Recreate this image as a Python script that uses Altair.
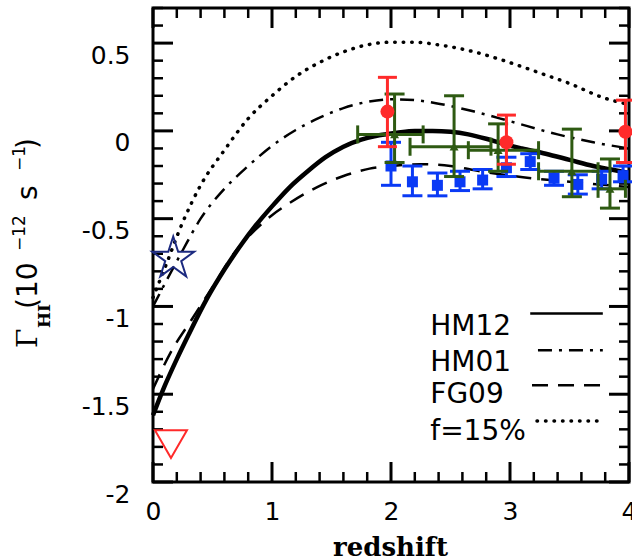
import altair as alt
import pandas as pd

# ---------------- data ----------------
hm12_z = [0, 0.1, 0.2, 0.3, 0.45, 0.6, 0.75, 0.85, 1.0, 1.15, 1.3, 1.45, 1.6, 1.75, 1.9,
          2.05, 2.2, 2.35, 2.5, 2.65, 2.8, 2.95, 3.1, 3.3, 3.5, 3.7, 3.85, 4.0]
hm12_v = [-1.62, -1.45, -1.3, -1.16, -0.96, -0.79, -0.64, -0.55, -0.43, -0.32, -0.23, -0.15,
          -0.09, -0.05, -0.025, -0.01, 0.0, 0.0, -0.005, -0.02, -0.045, -0.075, -0.1, -0.13,
          -0.165, -0.2, -0.22, -0.24]

hm01_z = [0, 0.1, 0.25, 0.4, 0.6, 0.8, 1.0, 1.2, 1.4, 1.6, 1.8, 2.0, 2.2, 2.4, 2.7, 3.0, 3.4, 3.7, 4.0]
hm01_v = [-1.0, -0.87, -0.68, -0.5, -0.33, -0.2, -0.085, 0.005, 0.075, 0.13, 0.165, 0.18,
          0.175, 0.155, 0.11, 0.055, -0.02, -0.065, -0.1]

fg09_z = [0, 0.15, 0.32, 0.5, 0.7, 0.85, 1.0, 1.15, 1.38, 1.63, 1.82, 2.0, 2.25, 2.5, 2.75, 3.0, 3.5, 4.0]
fg09_v = [-1.47, -1.26, -1.08, -0.89, -0.68, -0.57, -0.48, -0.41, -0.32, -0.25, -0.215, -0.2,
          -0.19, -0.2, -0.23, -0.255, -0.29, -0.32]

f15_z = [0, 0.1, 0.25, 0.4, 0.6, 0.8, 1.0, 1.2, 1.4, 1.6, 1.8, 2.0, 2.2, 2.4, 2.7, 2.95, 3.25, 3.5, 3.78, 4.0]
f15_v = [-0.95, -0.78, -0.52, -0.31, -0.11, 0.07, 0.2, 0.31, 0.39, 0.45, 0.49, 0.505, 0.505,
         0.49, 0.45, 0.4, 0.33, 0.27, 0.19, 0.15]

red_z = [1.97, 2.97, 3.97]
red_v = [0.11, -0.065, -0.005]
red_lo = [-0.09, -0.19, -0.18]
red_hi = [0.305, 0.09, 0.175]

blue_z = [2.0, 2.18, 2.39, 2.58, 2.77, 2.97, 3.17, 3.37, 3.57, 3.77, 3.95]
blue_v = [-0.2, -0.29, -0.31, -0.29, -0.28, -0.21, -0.175, -0.27, -0.305, -0.275, -0.255]
blue_lo = [-0.31, -0.37, -0.37, -0.34, -0.33, -0.26, -0.22, -0.31, -0.36, -0.33, -0.29]
blue_hi = [-0.065, -0.2, -0.24, -0.23, -0.22, -0.15, -0.13, -0.23, -0.25, -0.23, -0.2]

green_z = [2.03, 2.53, 2.9, 3.52, 3.84]
green_v = [-0.02, -0.09, -0.11, -0.23, -0.33]
green_zlo = [1.72, 2.16, 2.65, 3.24, 3.74]
green_zhi = [2.27, 2.84, 3.24, 3.74, 3.97]
green_lo = [-0.18, -0.26, -0.23, -0.375, -0.44]
green_hi = [0.21, 0.2, 0.04, 0.01, -0.16]

star_z, star_v = [0.17], [-0.727]
tri_z, tri_v = [0.151], [-1.784]

legend_labels = ["HM12", "HM01", "FG09", "f=15%"]
legend_text_z = [2.33, 2.33, 2.33, 2.33]
legend_text_v = [-1.165, -1.369, -1.551, -1.761]
legend_line_z1 = [3.17, 3.235, 3.185, 3.227]
legend_line_z2 = [3.78, 3.78, 3.78, 3.78]
legend_line_v = [-1.04, -1.25, -1.449, -1.653]

x_major = [0, 1, 2, 3, 4]
x_minor = [round(0.2 * i, 1) for i in range(1, 20) if i % 5 != 0]
y_major = [-2, -1.5, -1, -0.5, 0, 0.5]
y_minor = [round(-2 + 0.1 * i, 1) for i in range(1, 28) if i % 5 != 0]

# ---------------- styling ----------------
W, H = 476, 474
RED = "#ff2a2a"
BLUE = "#0a3af5"
GREEN = "#2e5a12"
NAVY = "#1c2a80"
STAR = ("M0,-1L0.2245,-0.309L0.9511,-0.309L0.3633,0.118L0.5878,0.809L0,0.382"
        "L-0.5878,0.809L-0.3633,0.118L-0.9511,-0.309L-0.2245,-0.309Z")

xscale = alt.Scale(domain=[0, 4], nice=False, zero=False)
yscale = alt.Scale(domain=[-2, 0.7], nice=False, zero=False)

xaxis = alt.Axis(orient="bottom", values=x_major, ticks=False, domain=False, grid=False,
                 labelFont="DejaVu Sans", labelFontSize=25, labelColor="black",
                 labelPadding=17, labelFlush=False, labelOverlap=False,
                 labelBaseline="top",
                 title="redshift", titleFont="DejaVu Serif", titleFontSize=26,
                 titleFontWeight="bold", titleColor="black", titleX=237, titleY=73,
                 titleAlign="center", titleBaseline="alphabetic")
yaxis = alt.Axis(orient="left", values=y_major, ticks=False, domain=False, grid=False,
                 labelFont="DejaVu Sans", labelFontSize=25, labelColor="black",
                 labelPadding=23, labelOffset=12, labelFlush=False, labelOverlap=False,
                 labelBaseline="middle", labelAlign="right",
                 labelExpr="datum.value < 0 ? '-' + format(-datum.value, '') : format(datum.value, '')",
                 title=None)


def X(f):
    return alt.X(f, type="quantitative", scale=xscale, axis=xaxis)


def Y(f):
    return alt.Y(f, type="quantitative", scale=yscale, axis=yaxis)


layers = []

# ---- frame ticks (inward, all four sides) ----
for vals, ln, sw in [(x_major, 20, 3), (x_minor, 10, 2.5)]:
    d = pd.DataFrame({"v": vals})
    layers.append(alt.Chart(d).mark_rule(color="black", strokeWidth=sw).encode(
        x=X("v"), y=alt.value(H), y2=alt.value(H - ln)))
    layers.append(alt.Chart(d).mark_rule(color="black", strokeWidth=sw).encode(
        x=X("v"), y=alt.value(0), y2=alt.value(ln)))
for vals, ln, sw in [(y_major, 20, 3), (y_minor, 10, 2.5)]:
    d = pd.DataFrame({"v": vals})
    layers.append(alt.Chart(d).mark_rule(color="black", strokeWidth=sw).encode(
        y=Y("v"), x=alt.value(0), x2=alt.value(ln)))
    layers.append(alt.Chart(d).mark_rule(color="black", strokeWidth=sw).encode(
        y=Y("v"), x=alt.value(W), x2=alt.value(W - ln)))

# ---- model curves ----
def curve(zs, vs, **kw):
    d = pd.DataFrame({"z": zs, "v": vs})
    return alt.Chart(d).mark_line(color="black", interpolate="monotone", **kw).encode(
        x=X("z"), y=Y("v"))


layers.append(curve(f15_z, f15_v, strokeWidth=3.5, strokeDash=[0.5, 8], strokeCap="round"))
layers.append(curve(fg09_z, fg09_v, strokeWidth=2.5, strokeDash=[16, 10]))
layers.append(curve(hm01_z, hm01_v, strokeWidth=2.5, strokeDash=[14, 7, 3, 7]))
layers.append(curve(hm12_z, hm12_v, strokeWidth=4.5))

# ---- blue squares ----
bd = pd.DataFrame({"z": blue_z, "v": blue_v, "lo": blue_lo, "hi": blue_hi})
bcap = pd.DataFrame({"z": blue_z + blue_z, "c": blue_lo + blue_hi})
layers.append(alt.Chart(bd).mark_rule(color=BLUE, strokeWidth=3).encode(x=X("z"), y=Y("lo"), y2="hi"))
layers.append(alt.Chart(bcap).mark_tick(color=BLUE, thickness=3, size=20, orient="horizontal", opacity=1).encode(
    x=X("z"), y=Y("c")))
layers.append(alt.Chart(bd).mark_point(shape="square", filled=True, size=121, color=BLUE, opacity=1).encode(
    x=X("z"), y=Y("v")))

# ---- green triangles with x and y errors ----
gd = pd.DataFrame({"z": green_z, "v": green_v, "zlo": green_zlo, "zhi": green_zhi,
                   "lo": green_lo, "hi": green_hi})
gcapy = pd.DataFrame({"z": green_z + green_z, "c": green_lo + green_hi})
gcapx = pd.DataFrame({"c": green_zlo + green_zhi, "v": green_v + green_v})
layers.append(alt.Chart(gd).mark_rule(color=GREEN, strokeWidth=3).encode(x=X("z"), y=Y("lo"), y2="hi"))
layers.append(alt.Chart(gd).mark_rule(color=GREEN, strokeWidth=3).encode(x=X("zlo"), x2="zhi", y=Y("v")))
layers.append(alt.Chart(gcapy).mark_tick(color=GREEN, thickness=3, size=20, orient="horizontal", opacity=1).encode(
    x=X("z"), y=Y("c")))
layers.append(alt.Chart(gcapx).mark_tick(color=GREEN, thickness=3, size=18, orient="vertical", opacity=1).encode(
    x=X("c"), y=Y("v")))
layers.append(alt.Chart(gd).mark_point(shape="triangle-up", filled=True, size=80, color=GREEN, opacity=1).encode(
    x=X("z"), y=Y("v")))

# ---- red circles ----
rd = pd.DataFrame({"z": red_z, "v": red_v, "lo": red_lo, "hi": red_hi})
rcap = pd.DataFrame({"z": red_z + red_z, "c": red_lo + red_hi})
layers.append(alt.Chart(rd).mark_rule(color=RED, strokeWidth=3).encode(x=X("z"), y=Y("lo"), y2="hi"))
layers.append(alt.Chart(rcap).mark_tick(color=RED, thickness=3, size=19, orient="horizontal", opacity=1).encode(
    x=X("z"), y=Y("c")))
layers.append(alt.Chart(rd).mark_point(shape="circle", filled=True, size=196, color=RED, opacity=1).encode(
    x=X("z"), y=Y("v")))

# ---- low-redshift markers ----
layers.append(alt.Chart(pd.DataFrame({"z": star_z, "v": star_v})).mark_point(
    shape=STAR, filled=False, size=1936, stroke=NAVY, strokeWidth=2, opacity=1).encode(x=X("z"), y=Y("v")))
layers.append(alt.Chart(pd.DataFrame({"z": tri_z, "v": tri_v})).mark_point(
    shape="triangle-down", filled=False, size=1024, stroke=RED, strokeWidth=2, opacity=1).encode(x=X("z"), y=Y("v")))

# ---- legend (in data coordinates) ----
ld = pd.DataFrame({"label": legend_labels, "z": legend_text_z, "v": legend_text_v,
                   "z1": legend_line_z1, "z2": legend_line_z2, "lv": legend_line_v})
layers.append(alt.Chart(ld).mark_text(align="left", baseline="alphabetic", font="DejaVu Sans",
                                      fontSize=28, color="black").encode(x=X("z"), y=Y("v"), text="label"))
dashes = [None, [14, 7, 3, 7], [16, 10], [0.5, 8]]
for i, dsh in enumerate(dashes):
    row = ld.iloc[[i]]
    kw = {"strokeWidth": 2.5}
    if dsh is not None:
        kw["strokeDash"] = dsh
    if i == 3:
        kw["strokeCap"] = "round"
        kw["strokeWidth"] = 3.5
    layers.append(alt.Chart(row).mark_rule(color="black", **kw).encode(
        x=X("z1"), x2="z2", y=Y("lv")))

# ---- y-axis title built from pieces (rotated) ----
ytitle_text = ["Γ", "HI", "(10", "−12", "s", "−1", ")"]
ytitle_x = [-116, -103, -116, -128, -116, -128, -116]
ytitle_y = [340, 320, 301, 243, 192, 163, 141]
ytitle_size = [28, 17, 28, 17, 28, 17, 28]
ytitle_font = ["DejaVu Serif", "DejaVu Serif", "DejaVu Sans", "DejaVu Sans", "DejaVu Sans", "DejaVu Sans", "DejaVu Sans"]
ytitle_weight = ["normal", "bold", "normal", "normal", "normal", "normal", "normal"]
for t, px, py, fs, fn, fw in zip(ytitle_text, ytitle_x, ytitle_y, ytitle_size, ytitle_font, ytitle_weight):
    layers.append(alt.Chart(pd.DataFrame({"t": [t]})).mark_text(
        angle=270, align="left", baseline="alphabetic", font=fn, fontSize=fs,
        fontWeight=fw, color="black").encode(x=alt.value(px), y=alt.value(py), text="t"))

chart = alt.layer(*layers).properties(
    width=W, height=H,
    padding={"left": 153, "top": 8, "right": 3, "bottom": 78},
    autosize=alt.AutoSizeParams(type="none"),
    background="white",
).configure_view(stroke="black", strokeWidth=3)

chart.save("out.html", embed_options={"renderer": "svg", "actions": False})
